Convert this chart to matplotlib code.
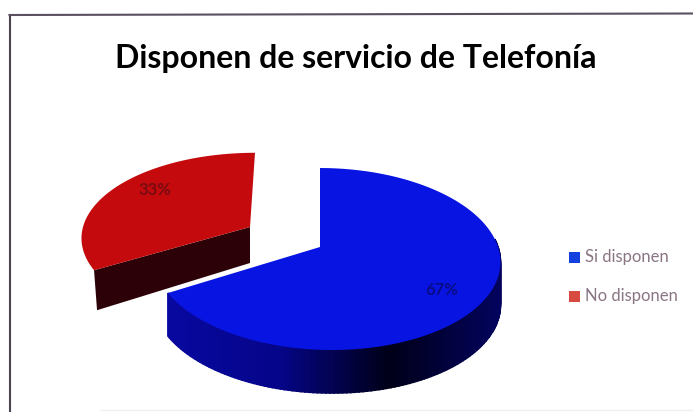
import numpy as np
import matplotlib
matplotlib.use('Agg')
import matplotlib.pyplot as plt
from matplotlib.colors import LinearSegmentedColormap
from matplotlib.patches import Polygon, Rectangle

title = 'Disponen de servicio de Telefonía'
categories = ['Si disponen', 'No disponen']
values = [67, 33]
pct_labels = ['67%', '33%']
top_colors = ['#0814e2', '#c40a0c']
dark_colors = ['#04046e', '#2c0208']
legend_colors = ['#1440e0', '#d84a40']
rim_ramp = ['#0808a0', '#05058a', '#000018', '#03035e']

K = 0.132    # perspective of the tilted disc


def project(t, cx, cy, b, a, skew=0.0):
    # angle on the disc to canvas position, near edge comes out larger
    c, s = np.cos(t), np.sin(t)
    return cx + b * c / (1 + K * s) + skew * (1 - s), cy - a * s / (1 + K * s)


def draw_rim(ax, x, y, depth, zorder):
    # shaded side of the disc, built from thin strips
    cmap = LinearSegmentedColormap.from_list('rim', rim_ramp)
    lo, hi = x.min(), x.max()
    for i in range(len(x) - 1):
        col = cmap((x[i] - lo) / (hi - lo))
        ax.add_patch(Polygon([(x[i], y[i]), (x[i + 1], y[i + 1]),
                              (x[i + 1], y[i + 1] + depth), (x[i], y[i] + depth)],
                             fc=col, ec=col, lw=1.2, zorder=zorder))


def draw_slice(ax, start, end, colour, apex, cx, cy, b, a, skew, zorder):
    t = np.linspace(start, end, 200)
    x, y = project(t, cx, cy, b, a, skew)
    top = np.r_[[apex], np.c_[x, y]]
    ax.add_patch(Polygon(top, fc=colour, ec='none', zorder=zorder))
    return t, x, y


fig = plt.figure(figsize=(6.93, 4.12), dpi=100)
ax = fig.add_axes([0, 0, 1, 1])
ax.set_xlim(0, 693)
ax.set_ylim(412, 0)
ax.axis('off')

# values run clockwise from twelve o'clock
a0 = np.pi / 2
a1 = a0 - 2 * np.pi * values[0] / sum(values)
a2 = a1 - 2 * np.pi * values[1] / sum(values)

t, x, y = draw_slice(ax, a0, a1, top_colors[0], (320, 247), 320, 247, 172, 89.4, 6, 3)
front = np.sin(t) < 0.1
draw_rim(ax, x[front], y[front], 43, 2)

# detached slice: only its cut face shows below the top
t, x, y = draw_slice(ax, a1, a2, top_colors[1], (250, 227), 255, 227, 172, 84, 0, 5)
ax.add_patch(Polygon([(250, 227), (x[0], y[0]), (x[0] + 3, y[0] + 40), (250, 263)],
                     fc=dark_colors[1], ec='none', zorder=4))

ax.text(442, 290, pct_labels[0], color='#0a0a70', fontsize=12, ha='center', va='center',
        family='Lato', fontweight='bold', alpha=0.8, zorder=6)
ax.text(155, 190, pct_labels[1], color='#7a0a12', fontsize=12, ha='center', va='center',
        family='Lato', fontweight='bold', zorder=6)

ax.text(356, 58, title, fontsize=23, family='Lato', fontweight='bold', color='black',
        ha='center', va='center')

for name, col, y_pos in zip(categories, legend_colors, [257, 296]):
    ax.add_patch(Rectangle((568.5, y_pos - 5.5), 11, 11, fc=col, ec='none'))
    ax.text(585, y_pos, name, fontsize=12, family='Lato', color='#8a7585', va='center', ha='left')

# outer frame
ax.plot([9.5, 9.5], [15, 412], color='#4a4450', lw=1.5)
ax.plot([9.5, 693], [15, 13.5], color='#5a5060', lw=1.5)
ax.plot([100, 693], [410, 410], color='#f0f0f0', lw=1)

fig.savefig('out.png', dpi=100)
